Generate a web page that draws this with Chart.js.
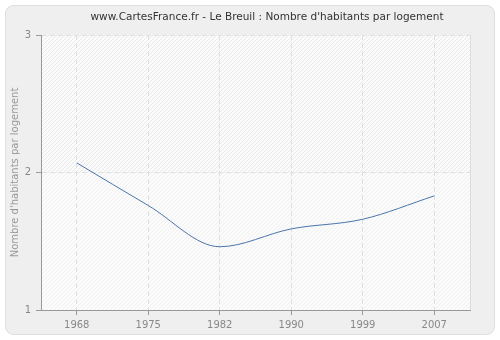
<!DOCTYPE html>
<html>
<head>
<meta charset="utf-8">
<script src="https://cdn.jsdelivr.net/npm/chart.js@4/dist/chart.umd.min.js"></script>
<style>
  html, body { margin: 0; padding: 0; background: #fff; }
  #wrap { width: 500px; height: 340px; position: relative; }
</style>
</head>
<body>
<div id="wrap"><canvas id="myChart"></canvas></div>
<script>
var years = ['1968', '1975', '1982', '1990', '1999', '2007'];
var habitants = [2.07, 1.76, 1.46, 1.59, 1.66, 1.83];
var yTicks = [1, 2, 3];
var titleText = "www.CartesFrance.fr - Le Breuil : Nombre d'habitants par logement";

function hatch(ctx, line, base) {
	var p = document.createElement('canvas');
	p.width = 4; p.height = 4;
	var pc = p.getContext('2d');
	pc.fillStyle = base;
	pc.fillRect(0, 0, 4, 4);
	pc.fillStyle = line;
	for (var i = 0; i < 4; i++) {
		pc.fillRect(i, 3 - i, 1, 1);
	}
	return ctx.createPattern(p, 'repeat');
}

// grey rounded panel behind everything + hatched plot area + title
var background = {
	id: 'background',
	beforeDraw: function(chart) {
		var ctx = chart.ctx;
		var a = chart.chartArea;
		ctx.save();
		ctx.fillStyle = '#ffffff';
		ctx.fillRect(0, 0, chart.width, chart.height);
		ctx.beginPath();
		ctx.roundRect(5.5, 5.5, 489, 329, 8);
		ctx.fillStyle = '#efefef';
		ctx.fill();
		ctx.strokeStyle = '#dedede';
		ctx.lineWidth = 1;
		ctx.stroke();

		var y2 = chart.scales.y.getPixelForValue(2);
		ctx.fillStyle = hatch(ctx, '#e9e9e9', '#fbfbfb');
		ctx.fillRect(a.left, a.top, a.right - a.left, y2 - a.top);
		ctx.fillStyle = hatch(ctx, '#f1f1f1', '#fbfbfb');
		ctx.fillRect(a.left, y2, a.right - a.left, a.bottom - y2);

		ctx.fillStyle = '#dcdcdc';
		ctx.fillRect(a.right, a.top, 1, a.bottom - a.top);

		ctx.fillStyle = '#333';
		ctx.font = '10.5px "DejaVu Sans"';
		ctx.textAlign = 'center';
		ctx.textBaseline = 'middle';
		ctx.fillText(titleText, 267, 17);
		ctx.restore();
	}
};

var ctx = document.getElementById('myChart').getContext('2d');
var chart = new Chart(ctx, {
	type: 'line',
	data: {
		labels: years,
		datasets: [{
			data: habitants,
			borderColor: '#4a76a9',
			borderWidth: 1,
			pointRadius: 0,
			fill: false,
			cubicInterpolationMode: 'monotone'
		}]
	},
	plugins: [background],
	options: {
		responsive: true,
		maintainAspectRatio: false,
		animation: false,
		layout: { padding: { left: 5, right: 30, top: 35, bottom: 0 } },
		plugins: {
			legend: { display: false },
			tooltip: { enabled: false },
			title: { display: false }
		},
		scales: {
			x: {
				offset: true,
				afterFit: function(scale) { scale.height = 30; },
				grid: {
					offset: false,
					color: '#e0e0e0',
					tickColor: '#999',
					tickBorderDash: [],
					tickLength: 5
				},
				// dash here applies to the grid lines in v4
				border: { color: '#999', width: 1, dash: [5, 3] },
				ticks: {
					color: '#888',
					padding: 4,
					font: { family: 'DejaVu Sans', size: 10 }
				}
			},
			y: {
				min: 1,
				max: 3,
				afterFit: function(scale) { scale.width = 36; },
				afterBuildTicks: function(scale) {
					scale.ticks = yTicks.map(function(v) { return { value: v }; });
				},
				grid: {
					color: '#e0e0e0',
					tickColor: '#999',
					tickBorderDash: [],
					tickLength: 5
				},
				border: { color: '#999', width: 1, dash: [5, 3] },
				ticks: {
					color: '#888',
					padding: 5,
					font: { family: 'DejaVu Sans', size: 10 }
				},
				title: {
					display: true,
					text: "Nombre d'habitants par logement",
					color: '#999',
					font: { family: 'DejaVu Sans', size: 10 },
					padding: { top: 4, bottom: 0 }
				}
			}
		}
	}
});
</script>
</body>
</html>
